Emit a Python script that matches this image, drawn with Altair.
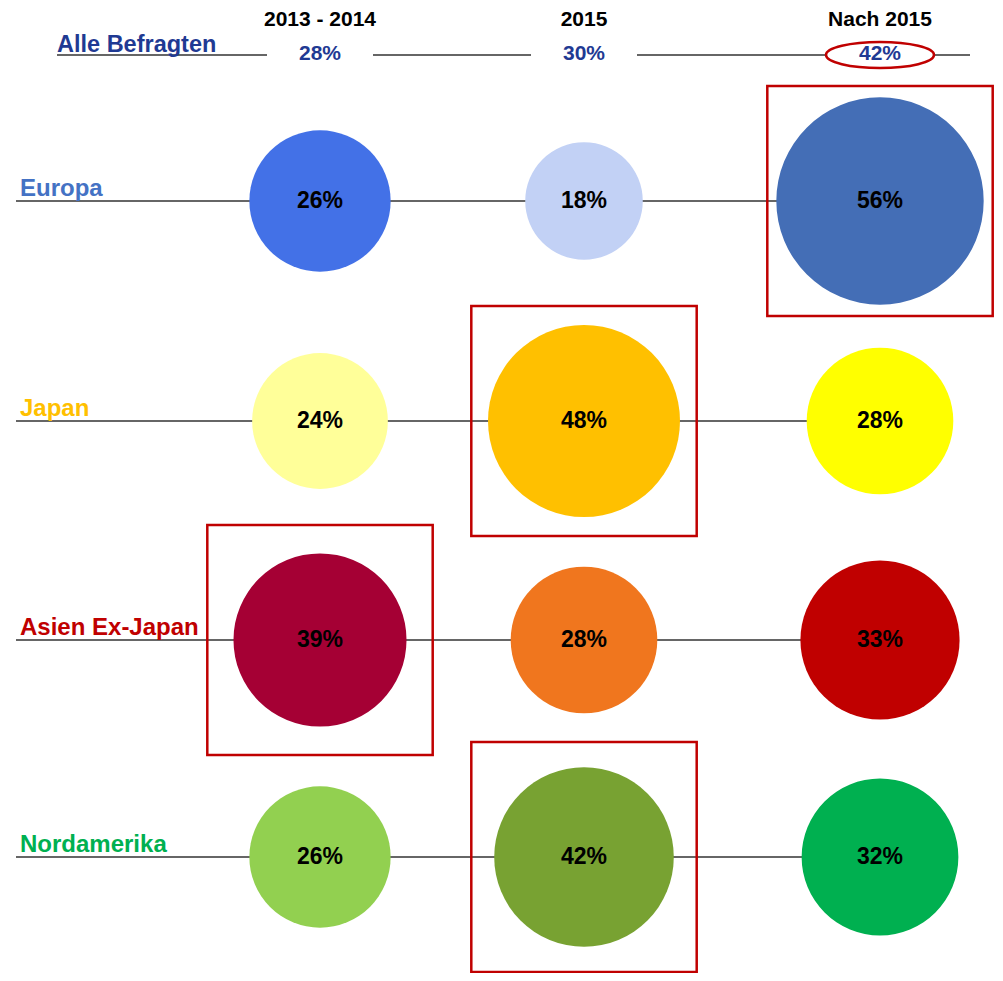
import altair as alt
import pandas as pd

columns = ["2013 - 2014", "2015", "Nach 2015"]
all_label = "Alle Befragten"
all_values = [28, 30, 42]
regions = ["Europa", "Japan", "Asien Ex-Japan", "Nordamerika"]
europa = [26, 18, 56]
japan = [24, 48, 28]
asien = [39, 28, 33]
nordamerika = [26, 42, 32]
region_colors = ["#4472C4", "#FFC000", "#C00000", "#00B050"]
europa_colors = ["#4371E7", "#C2D1F5", "#446EB6"]
japan_colors = ["#FFFF99", "#FFC000", "#FFFF00"]
asien_colors = ["#A50034", "#F0761E", "#C00000"]
nordamerika_colors = ["#92D050", "#78A232", "#00B050"]
all_color = "#1F3A93"
FONT = "Liberation Sans"

region_values = [europa, japan, asien, nordamerika]
region_bubble_colors = [europa_colors, japan_colors, asien_colors, nordamerika_colors]

rows = []
for ri, (reg, vals, cols) in enumerate(zip(regions, region_values, region_bubble_colors), start=1):
    mx = max(vals)
    for ci, (c, v, colr) in enumerate(zip(columns, vals, cols)):
        rows.append({"region": reg, "ri": ri, "column": c, "ci": ci, "value": v,
                     "label": f"{v}%", "color": colr, "is_max": v == mx})
bub = pd.DataFrame(rows)

reg_df = pd.DataFrame({"region": regions, "ri": list(range(1, len(regions) + 1)),
                       "color": region_colors})

mx_all = max(all_values)
all_df = pd.DataFrame({"column": columns, "ci": list(range(len(columns))), "ri": 0,
                       "value": all_values, "label": [f"{v}%" for v in all_values],
                       "is_max": [v == mx_all for v in all_values]})
all_row = pd.DataFrame({"region": [all_label], "ri": [0]})

xs = alt.Scale(domain=[0, 1, 2], range=[312, 576, 872], nice=False, zero=False)
ys = alt.Scale(domain=[0, 1, 2, 3, 4], range=[47, 193, 413, 632, 849], nice=False, zero=False)
X = alt.X("ci:Q", scale=xs, axis=None)
Y = alt.Y("ri:Q", scale=ys, axis=None)

region_lines = alt.Chart(reg_df).mark_rule(color="#333333", strokeWidth=1.5).encode(
    x=alt.value(8), x2=alt.value(872), y=Y)
all_line = alt.Chart(all_row).mark_rule(color="#333333", strokeWidth=1.5).encode(
    x=alt.value(49), x2=alt.value(962), y=Y)

gaps = alt.Chart(all_df).transform_filter("!datum.is_max").mark_point(
    shape="M-1,-0.25L1,-0.25L1,0.25L-1,0.25Z", filled=True, fill="white",
    strokeWidth=0, opacity=1, size=106 * 106).encode(x=X, y=Y)
ellipse = alt.Chart(all_df).transform_filter("datum.is_max").mark_point(
    shape="M-1,0A1,0.24,0,1,0,1,0A1,0.24,0,1,0,-1,0Z", filled=True, fill="white",
    stroke="#C00000", strokeWidth=2.5, opacity=1, size=108 * 108).encode(x=X, y=Y)

circles = alt.Chart(bub).mark_circle(opacity=1).encode(
    x=X, y=Y,
    size=alt.Size("value:Q", scale=alt.Scale(domain=[0, 56], range=[0, 43000]), legend=None),
    color=alt.Color("color:N", scale=None))

boxes = alt.Chart(bub).transform_filter("datum.is_max").mark_point(
    shape="M-0.98,-1L0.98,-1L0.98,1L-0.98,1Z", filled=False, stroke="#C00000",
    strokeWidth=2.5, opacity=1, size=230 * 230).encode(x=X, y=Y)

bub_text = alt.Chart(bub).mark_text(font=FONT, fontSize=23, fontWeight="bold",
                                    color="black", baseline="middle", align="center").encode(
    x=X, y=Y, text="label:N")

headers = alt.Chart(all_df).mark_text(font=FONT, fontSize=21, fontWeight="bold",
                                      color="black", baseline="top", align="center").encode(
    x=X, y=alt.value(1), text="column:N")

all_text = alt.Chart(all_df).mark_text(font=FONT, fontSize=21, fontWeight="bold",
                                       color=all_color, baseline="middle", align="center",
                                       dy=-1).encode(x=X, y=Y, text="label:N")

region_text = alt.Chart(reg_df).mark_text(font=FONT, fontSize=24, fontWeight="bold",
                                          baseline="alphabetic", align="left", dy=-5).encode(
    x=alt.value(12), y=Y, text="region:N", color=alt.Color("color:N", scale=None))

all_label_text = alt.Chart(all_row).mark_text(font=FONT, fontSize=23.5, fontWeight="bold",
                                              baseline="alphabetic", align="left", dy=-3,
                                              color=all_color).encode(
    x=alt.value(49), y=Y, text="region:N")

chart = alt.layer(
    region_lines, all_line, gaps, ellipse, circles, boxes,
    bub_text, headers, all_text, region_text, all_label_text
).properties(width=987, height=965, padding=0,
             autosize=alt.AutoSizeParams(type="none")).configure_view(stroke=None)

chart.save("out.html", embed_options={"renderer": "svg", "actions": False})
